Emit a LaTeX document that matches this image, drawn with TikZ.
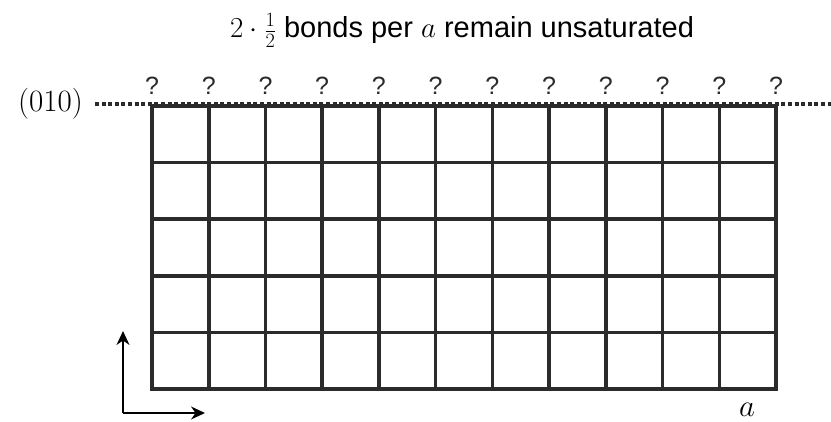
\RequirePackage{fix-cm}
\documentclass[tikz,border=0pt]{standalone}
\usepackage{fontspec}
\setmainfont{Liberation Sans}
\usetikzlibrary{arrows.meta}
\definecolor{gridc}{HTML}{2B2B2B}
\tikzset{
  gridline/.style={draw=gridc, line width=3.6pt, line cap=rect},
  dotline/.style={draw=gridc, line width=3.2pt, dash pattern=on 4pt off 2.6pt},
  axis/.style={draw=black, line width=2pt, -{Stealth[length=14pt,width=13pt]}},
  qmark/.style={anchor=base, inner sep=0pt, font=\fontsize{25}{30}\selectfont, text=gridc},
  lbl/.style={inner sep=0pt, font=\fontsize{31}{36}\selectfont},
}
\begin{document}
\begin{tikzpicture}[x=1pt,y=-1pt]
\useasboundingbox (0,0) rectangle (831,422);
% title
\node[anchor=base, inner sep=0pt, font=\fontsize{29}{34}\selectfont] (title) at (462,38)
  {$2\cdot\frac{1}{2}$ bonds per $a$ remain unsaturated};
% plane label
\node[lbl, anchor=east] (plane) at (83,104) {$(010)$};
% dotted plane line
\coordinate (dl) at (95,104);
\coordinate (dr) at (831,104);
% grid
\foreach \i in {0,...,11} {
  \pgfmathsetmacro{\xx}{152+\i*56.73}
  \draw[gridline] (\xx,106) -- (\xx,389);
  \node[qmark] (q\i) at (\xx,95) {?};
}
\foreach \j in {0,...,5} {
  \pgfmathsetmacro{\yy}{106+\j*56.6}
  \draw[gridline] (152,\yy) -- (776,\yy);
}
\draw[dotline] (dl) -- (dr);
% axes
\coordinate (o) at (123,413);
\coordinate (up) at (123,331);
\coordinate (rt) at (205,413);
\draw[axis] (o) -- (up);
\draw[axis] (o) -- (rt);
% a label
\node[lbl] (alab) at (747,410) {$a$};
\end{tikzpicture}
\end{document}
